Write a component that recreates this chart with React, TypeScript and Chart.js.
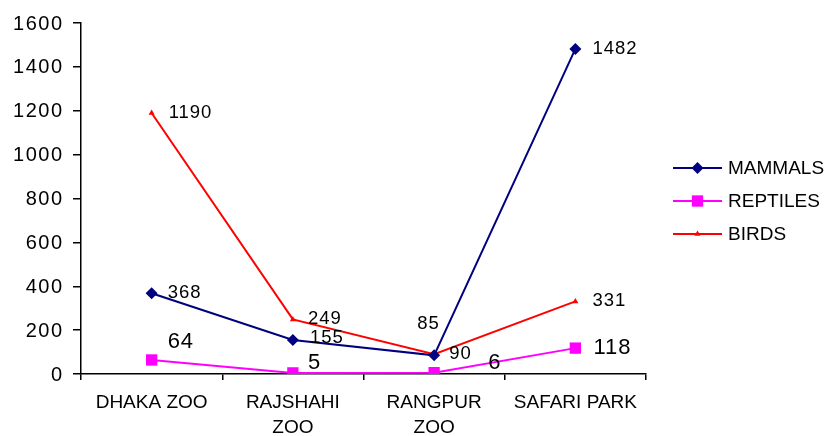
import React, { useEffect, useRef } from "react";
import { Chart, registerables } from "chart.js";

Chart.register(...registerables);

const categories: string[][] = [["DHAKA ZOO"], ["RAJSHAHI", "ZOO"], ["RANGPUR", "ZOO"], ["SAFARI PARK"]];
const seriesNames = ["MAMMALS", "REPTILES", "BIRDS"];
const mammals = [368, 155, 85, 1482];
const reptiles = [64, 5, 6, 118];
const birds = [1190, 249, 90, 331];
const yMin = 0;
const yMax = 1600;
const yStep = 200;

// label offsets (px) from each point, per series
const labelOffsets: number[][][] = [
  [[16, 0], [17, -2], [-17, -31], [17, 0]],
  [[16, -18], [15, -10], [54, -10], [18, 0]],
  [[17, 0], [15, 0], [15, 0], [17, 0]],
];
const FONT = "'Liberation Sans', Arial, sans-serif";
const labelFonts = [`18.5px ${FONT}`, `22px ${FONT}`, `18.5px ${FONT}`];

function drawMarker(ctx: CanvasRenderingContext2D, style: string, x: number, y: number, r: number, color: string) {
  ctx.save();
  ctx.fillStyle = color;
  ctx.beginPath();
  if (style === "rectRot") {
    ctx.moveTo(x, y - r);
    ctx.lineTo(x + r, y);
    ctx.lineTo(x, y + r);
    ctx.lineTo(x - r, y);
    ctx.closePath();
  } else if (style === "rect") {
    const s = r * Math.SQRT1_2;
    ctx.rect(x - s, y - s, 2 * s, 2 * s);
  } else {
    ctx.moveTo(x, y - r);
    ctx.lineTo(x + r * 0.87, y + r * 0.5);
    ctx.lineTo(x - r * 0.87, y + r * 0.5);
    ctx.closePath();
  }
  ctx.fill();
  ctx.restore();
}

const yLabelPlugin = {
  id: "yLabels",
  afterDraw(chart: any) {
    const ctx = chart.ctx as CanvasRenderingContext2D;
    const scale = chart.scales.y;
    ctx.save();
    (ctx as any).letterSpacing = "1.5px";
    ctx.font = `20px ${FONT}`;
    ctx.fillStyle = "#000";
    ctx.textAlign = "right";
    ctx.textBaseline = "middle";
    scale.ticks.forEach((t: any) => {
      const y = scale.getPixelForValue(t.value);
      ctx.fillText(String(t.value), scale.right - 17.5, y + 1);
    });
    ctx.restore();
  },
};

const dataLabelPlugin = {
  id: "dataLabels",
  afterDatasetsDraw(chart: any) {
    const ctx = chart.ctx as CanvasRenderingContext2D;
    chart.data.datasets.forEach((ds: any, di: number) => {
      const meta = chart.getDatasetMeta(di);
      meta.data.forEach((pt: any, i: number) => {
        const off = labelOffsets[di][i];
        ctx.save();
        (ctx as any).letterSpacing = "1px";
        ctx.font = labelFonts[di];
        ctx.fillStyle = "#000";
        ctx.textAlign = "left";
        ctx.textBaseline = "middle";
        ctx.fillText(String(ds.data[i]), pt.x + off[0], pt.y + off[1]);
        ctx.restore();
      });
    });
  },
};

const legendPlugin = {
  id: "customLegend",
  afterDraw(chart: any) {
    const ctx = chart.ctx as CanvasRenderingContext2D;
    const x0 = 673;
    const x1 = 722;
    const rows = [168, 201, 234];
    chart.data.datasets.forEach((ds: any, di: number) => {
      const y = rows[di];
      ctx.save();
      ctx.strokeStyle = ds.borderColor;
      ctx.lineWidth = ds.borderWidth;
      ctx.beginPath();
      ctx.moveTo(x0, y);
      ctx.lineTo(x1, y);
      ctx.stroke();
      drawMarker(ctx, ds.pointStyle, (x0 + x1) / 2, y, ds.pointRadius, ds.pointBackgroundColor);
      ctx.font = `19px ${FONT}`;
      ctx.fillStyle = "#000";
      ctx.textAlign = "left";
      ctx.textBaseline = "middle";
      ctx.fillText(ds.label, 728, y + 1);
      ctx.restore();
    });
  },
};

export default function App() {
  const ref = useRef<HTMLCanvasElement | null>(null);
  useEffect(() => {
    if (!ref.current) return;
    const colors = ["#000080", "#FF00FF", "#FF0000"];
    const styles = ["rectRot", "rect", "triangle"];
    const radii = [6, 8, 3.5];
    const values = [mammals, reptiles, birds];
    const chart = new Chart(ref.current, {
      type: "line",
      data: {
        labels: categories as any,
        datasets: seriesNames.map((name, i) => ({
          label: name,
          data: values[i],
          borderColor: colors[i],
          backgroundColor: colors[i],
          pointBackgroundColor: colors[i],
          pointBorderColor: colors[i],
          pointStyle: styles[i] as any,
          pointRadius: radii[i],
          pointBorderWidth: 0,
          borderWidth: 2,
          tension: 0,
          fill: false,
        })),
      },
      options: {
        animation: false,
        responsive: true,
        maintainAspectRatio: false,
        layout: { padding: { left: 0, top: 23, right: 179, bottom: 0 } },
        plugins: { legend: { display: false }, tooltip: { enabled: false } },
        scales: {
          x: {
            offset: true,
            grid: { offset: true, drawOnChartArea: false, drawTicks: true, tickLength: 6, color: "#000", lineWidth: 1.5 },
            border: { display: true, color: "#000", width: 1.5 },
            ticks: { color: "#000", font: { family: FONT, size: 19, lineHeight: 1.316 }, padding: 10, maxRotation: 0, autoSkip: false },
            afterFit: (s: any) => { s.height = 62; },
          },
          y: {
            min: yMin,
            max: yMax,
            grid: { drawOnChartArea: false, drawTicks: true, tickLength: 8, color: "#000", lineWidth: 1.5 },
            border: { display: true, color: "#000", width: 1.5 },
            ticks: { stepSize: yStep, display: false },
            afterFit: (s: any) => { s.width = 81; },
          },
        },
      },
      plugins: [yLabelPlugin, dataLabelPlugin, legendPlugin],
    });
    return () => chart.destroy();
  }, []);
  return (
    <div style={{ position: "absolute", left: 0, top: 0, width: 825, height: 436, background: "#fff" }}>
      <canvas ref={ref} />
    </div>
  );
}
